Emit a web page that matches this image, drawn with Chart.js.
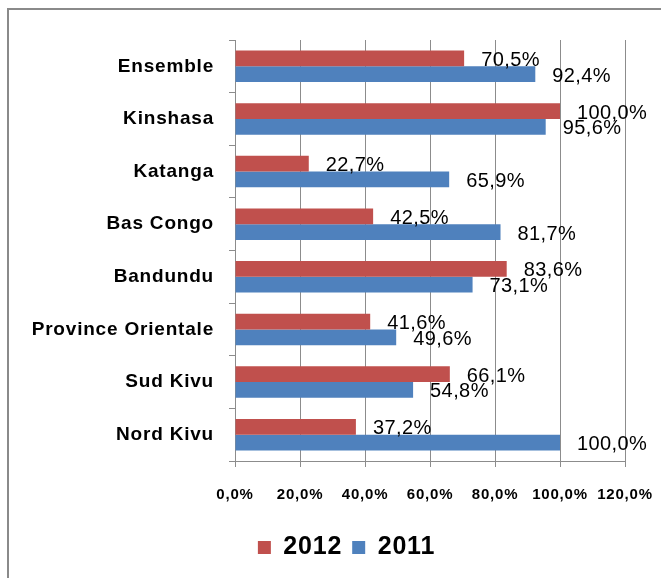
<!DOCTYPE html>
<html>
<head>
<meta charset="utf-8">
<script src="https://cdn.jsdelivr.net/npm/chart.js@4"></script>
<style>
  html, body { margin: 0; padding: 0; background: #fff; }
  #wrap { position: relative; width: 661px; height: 578px; }
</style>
</head>
<body>
<div id="wrap"><canvas id="chart"></canvas></div>
<script>
const categories = ['Ensemble', 'Kinshasa', 'Katanga', 'Bas Congo', 'Bandundu', 'Province Orientale', 'Sud Kivu', 'Nord Kivu'];
const seriesNames = ['2012', '2011'];
const values2012 = [70.5, 100.0, 22.7, 42.5, 83.6, 41.6, 66.1, 37.2];
const values2011 = [92.4, 95.6, 65.9, 81.7, 73.1, 49.6, 54.8, 100.0];
const axisMin = 0;
const axisMax = 120;
const axisStep = 20;

const FONT = "'Liberation Sans', Arial, sans-serif";
const fmt = v => v.toFixed(1).replace('.', ',') + '%';

// slightly wider letters, like the original rendering
const spacing = (c) => { c.ctx.letterSpacing = '0.8px'; };

const framePlugin = {
    id: 'frame',
    beforeUpdate: spacing,
    beforeLayout: spacing,
    afterLayout(c) {
        c.legend.left += 34;
        c.legend.right += 34;
    },
    beforeDraw(c) {
        spacing(c);
        const ctx = c.ctx;
        ctx.save();
        ctx.strokeStyle = '#8a8a8a';
        ctx.lineWidth = 2;
        ctx.strokeRect(8, 9, 700, 700);
        ctx.restore();
    }
};

const valueLabels = {
    id: 'valueLabels',
    afterDatasetsDraw(c) {
        const ctx = c.ctx;
        ctx.save();
        ctx.letterSpacing = '0.4px';
        ctx.font = '20px ' + FONT;
        ctx.fillStyle = '#000';
        ctx.textAlign = 'left';
        ctx.textBaseline = 'middle';
        c.data.datasets.forEach((ds, i) => {
            c.getDatasetMeta(i).data.forEach((bar, j) => {
                ctx.fillText(fmt(ds.data[j]), bar.x + 17, bar.y + 2);
            });
        });
        ctx.restore();
    }
};

const ctx = document.getElementById('chart').getContext('2d');
window.myChart = new Chart(ctx, {
    type: 'bar',
    data: {
        labels: categories,
        datasets: [
            {
                label: seriesNames[0],
                data: values2012,
                backgroundColor: '#C0504D',
                borderWidth: 0
            },
            {
                label: seriesNames[1],
                data: values2011,
                backgroundColor: '#4F81BD',
                borderWidth: 0
            }
        ]
    },
    options: {
        indexAxis: 'y',
        responsive: true,
        maintainAspectRatio: false,
        animation: false,
        categoryPercentage: 0.6,
        barPercentage: 1.0,
        layout: {
            padding: { top: 40, right: 36, left: 0, bottom: 8 }
        },
        scales: {
            x: {
                min: axisMin,
                max: axisMax,
                ticks: {
                    stepSize: axisStep,
                    color: '#000',
                    padding: 19,
                    maxRotation: 0,
                    minRotation: 0,
                    autoSkip: false,
                    font: { family: FONT, size: 15, weight: 'bold' },
                    callback: v => fmt(v)
                },
                grid: {
                    color: '#8c8c8c',
                    tickLength: 6
                },
                border: { color: '#8c8c8c' },
                afterFit: s => {
                    s.height = 64;
                    s.paddingLeft = 0;
                    s.paddingRight = 0;
                }
            },
            y: {
                ticks: {
                    color: '#000',
                    padding: 15,
                    font: { family: FONT, size: 19, weight: 'bold' }
                },
                grid: {
                    drawOnChartArea: false,
                    color: '#8c8c8c',
                    tickLength: 6
                },
                border: { color: '#8c8c8c' },
                afterFit: s => { s.width = 235; }
            }
        },
        plugins: {
            legend: {
                position: 'bottom',
                labels: {
                    color: '#000',
                    boxWidth: 13,
                    boxHeight: 13,
                    padding: 10,
                    font: { family: FONT, size: 25, weight: 'bold' }
                }
            },
            tooltip: { enabled: false }
        }
    },
    plugins: [framePlugin, valueLabels]
});
</script>
</body>
</html>
